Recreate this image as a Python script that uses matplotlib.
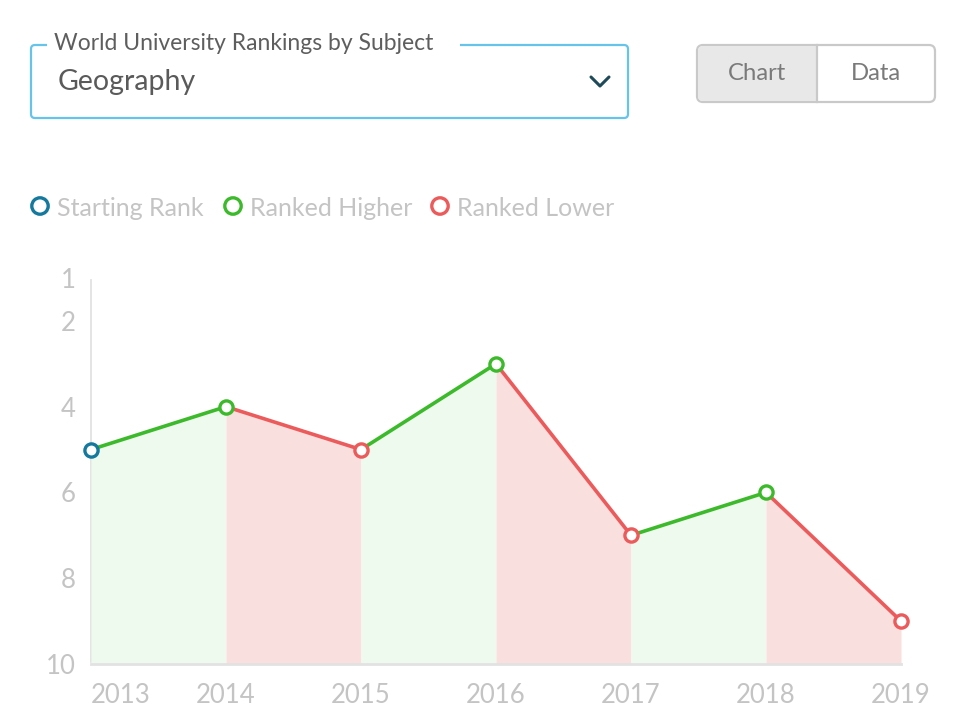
import matplotlib
matplotlib.use('Agg')
import matplotlib.pyplot as plt
from matplotlib.patches import FancyBboxPatch, Rectangle, Circle
import numpy as np

plt.rcParams['font.family'] = ['Lato', 'DejaVu Sans']

# data
years = [2013, 2014, 2015, 2016, 2017, 2018, 2019]
ranks = [5, 4, 5, 3, 7, 6, 9]
y_ticks = [1, 2, 4, 6, 8, 10]

subject_label = "World University Rankings by Subject"
subject = "Geography"
legend_labels = ["Starting Rank", "Ranked Higher", "Ranked Lower"]

BLUE = '#15799e'
GREEN = '#3dba2c'
RED = '#ec5b5b'
GREEN_FILL = '#effaee'
RED_FILL = '#fadfdf'
GREY_TXT = '#c4c4c4'

fig = plt.figure(figsize=(9.8, 7.24), dpi=100)

# --- chart ---
ax = fig.add_axes([91 / 980, 1 - 664 / 724, 810 / 980, 386 / 724])
x = np.arange(len(years))
for i in range(len(x) - 1):
    up = ranks[i + 1] < ranks[i]
    ax.fill_between(x[i:i + 2], ranks[i:i + 2], 10,
                    color=GREEN_FILL if up else RED_FILL, lw=0, zorder=1)
    ax.plot(x[i:i + 2], ranks[i:i + 2], color=GREEN if up else RED,
            lw=2.6, solid_capstyle='round', zorder=2)
for i in range(len(x)):
    if i == 0:
        c = BLUE
    else:
        c = GREEN if ranks[i] < ranks[i - 1] else RED
    ax.plot(x[i], ranks[i], 'o', ms=9.5, mfc='white', mec=c, mew=2.4,
            zorder=3, clip_on=False)

ax.set_xlim(x[0], x[-1])
ax.set_ylim(10, 1)
ax.set_yticks(y_ticks)
ax.set_xticks(x)
ax.set_xticklabels([str(y) for y in years])
ax.tick_params(length=0, labelsize=18.5, labelcolor=GREY_TXT)
ax.tick_params(axis='y', pad=11)
ax.tick_params(axis='x', pad=14)
# first year label starts at the axis instead of being centred
ax.get_xticklabels()[0].set_horizontalalignment('left')
for s in ['top', 'right']:
    ax.spines[s].set_visible(False)
ax.spines['left'].set_color('#e2e2e2')
ax.spines['left'].set_linewidth(1.3)
ax.spines['left'].set_bounds(9.95, 1.05)
ax.spines['bottom'].set_color('#e2e2e2')
ax.spines['bottom'].set_linewidth(2)
ax.spines['left'].set_zorder(0)

# --- UI overlay in pixel coords ---
ui = fig.add_axes([0, 0, 1, 1], zorder=-1)
ui.set_xlim(0, 980)
ui.set_ylim(724, 0)
ui.axis('off')

# dropdown box
box = FancyBboxPatch((31, 45), 597, 73, boxstyle='round,pad=0,rounding_size=4',
                     fc='white', ec='#66c3ea', lw=1.6)
ui.add_patch(box)
ui.add_patch(Rectangle((47, 40), 413, 10, fc='white', ec='none', zorder=3))
ui.text(54, 44, subject_label, fontsize=16.5, color='#5e5e5e', va='center', zorder=4)
ui.text(58, 82, subject, fontsize=20.5, color='#5a5a5a', va='center', zorder=4)
ui.plot([591, 600, 609], [77, 86, 77], color='#1f4a59', lw=2.2,
        solid_capstyle='round', solid_joinstyle='round')

# chart / data toggle
ui.add_patch(FancyBboxPatch((697, 45), 238, 57, boxstyle='round,pad=0,rounding_size=6',
                            fc='white', ec='#c9c9c9', lw=1.6))
ui.add_patch(FancyBboxPatch((698, 46), 119, 55, boxstyle='round,pad=0,rounding_size=5',
                            fc='#e8e8e8', ec='none'))
ui.add_patch(Rectangle((790, 46), 27, 55, fc='#e8e8e8', ec='none'))
ui.plot([817, 817], [45, 102], color='#c9c9c9', lw=1.6)
ui.text(757, 74, "Chart", fontsize=17.2, color='#7a7a7a', ha='center', va='center')
ui.text(876, 74, "Data", fontsize=17.2, color='#7a7a7a', ha='center', va='center')

# legend
leg_x = [40, 233, 440]
leg_c = [BLUE, GREEN, RED]
for lx, lc, lab in zip(leg_x, leg_c, legend_labels):
    ui.add_patch(Circle((lx, 206), 8.2, fc='white', ec=lc, lw=2.4))
    ui.text(lx + 17, 208, lab, fontsize=18, color=GREY_TXT, va='center')

fig.savefig('out.png', dpi=100)
